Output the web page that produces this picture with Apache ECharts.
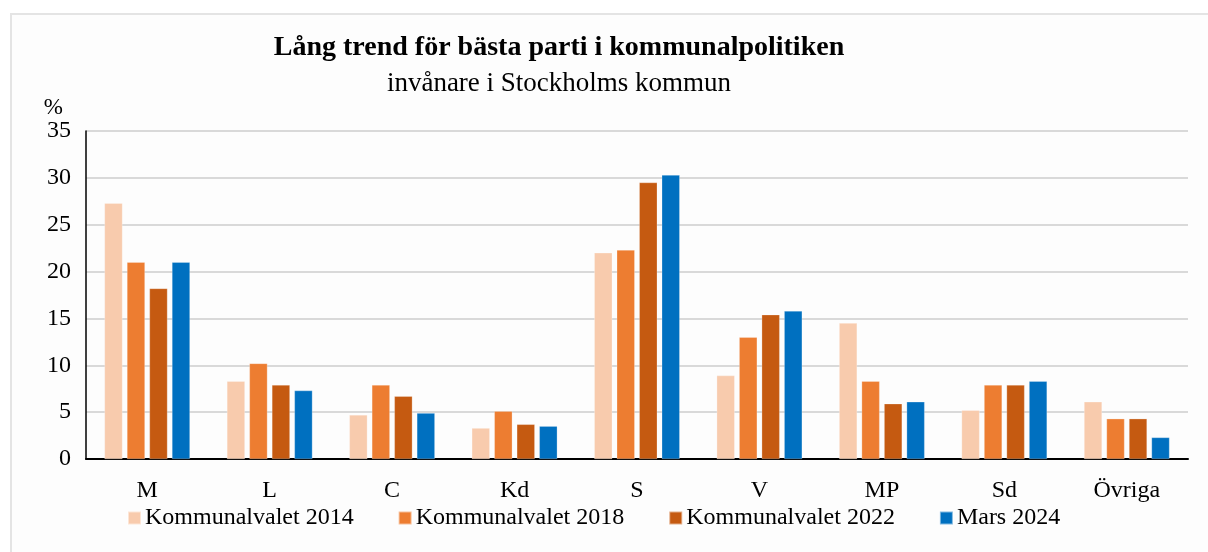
<!DOCTYPE html>
<html><head><meta charset="utf-8">
<script src="https://cdn.jsdelivr.net/npm/echarts@6/dist/echarts.min.js"></script>
<style>html,body{margin:0;padding:0;background:#fff}#c{width:1208px;height:552px}</style>
</head><body><div id="c"></div>
<script>
const categories = ['M','L','C','Kd','S','V','MP','Sd','Övriga'];
const seriesNames = ['Kommunalvalet 2014','Kommunalvalet 2018','Kommunalvalet 2022','Mars 2024'];
const val2014 = [27.3, 8.3, 4.7, 3.3, 22.0, 8.9, 14.5, 5.2, 6.1];
const val2018 = [21.0, 10.2, 7.9, 5.1, 22.3, 13.0, 8.3, 7.9, 4.3];
const val2022 = [18.2, 7.9, 6.7, 3.7, 29.5, 15.4, 5.9, 7.9, 4.3];
const valMars2024 = [21.0, 7.3, 4.9, 3.5, 30.3, 15.8, 6.1, 8.3, 2.3];
const colors = ['#F8CBAD','#ED7D31','#C55A11','#0070C0'];
const titleText = 'Lång trend för bästa parti i kommunalpolitiken';
const subText = 'invånare i Stockholms kommun';

const FONT = '"Liberation Serif","Times New Roman",serif';
const chart = echarts.init(document.getElementById('c'));
const data = [val2014, val2018, val2022, valMars2024];
chart.setOption({
  backgroundColor: '#ffffff',
  animation: false,
  graphic: [{
    type: 'rect', z: -10, silent: true,
    shape: {x: 11, y: 14, width: 1210, height: 560},
    style: {fill: '#fdfdfd', stroke: '#e4e4e4', lineWidth: 2}
  }],
  title: {
    text: titleText, subtext: subText,
    left: 554, textAlign: 'center', top: 29, itemGap: 8,
    textStyle: {fontFamily: FONT, fontWeight: 'bold', fontSize: 28, color: '#000'},
    subtextStyle: {fontFamily: FONT, fontSize: 27, color: '#000'}
  },
  legend: {
    data: seriesNames, left: 127, top: 506, padding: 0,
    itemWidth: 13, itemHeight: 13, itemGap: 44,
    icon: 'rect',
    textStyle: {fontFamily: FONT, fontSize: 24, color: '#000', padding: [0,0,0,-1]}
  },
  grid: {left: 86, right: 20, top: 131, bottom: 93, containLabel: false},
  xAxis: {
    type: 'category', data: categories,
    axisLine: {lineStyle: {color: '#000', width: 2}},
    axisTick: {show: false},
    axisLabel: {fontFamily: FONT, fontSize: 24, color: '#000', margin: 20}
  },
  yAxis: {
    type: 'value', min: 0, max: 35, interval: 5,
    name: '%', nameLocation: 'end', nameGap: 12,
    nameTextStyle: {fontFamily: FONT, fontSize: 23, color: '#000', align: 'right', verticalAlign: 'bottom', padding: [0, 23, 0, 0]},
    axisLine: {show: true, lineStyle: {color: '#000', width: 1.5}},
    axisTick: {show: false},
    axisLabel: {fontFamily: FONT, fontSize: 24, color: '#000', margin: 15},
    splitLine: {lineStyle: {color: '#d9d9d9', width: 2}}
  },
  series: seriesNames.map((n, i) => ({
    name: n, type: 'bar', data: data[i], barWidth: 18, barGap: '25%',
    itemStyle: {color: colors[i], borderColor: 'rgba(255,255,255,0.5)', borderWidth: 0.5}
  }))
});
</script></body></html>
